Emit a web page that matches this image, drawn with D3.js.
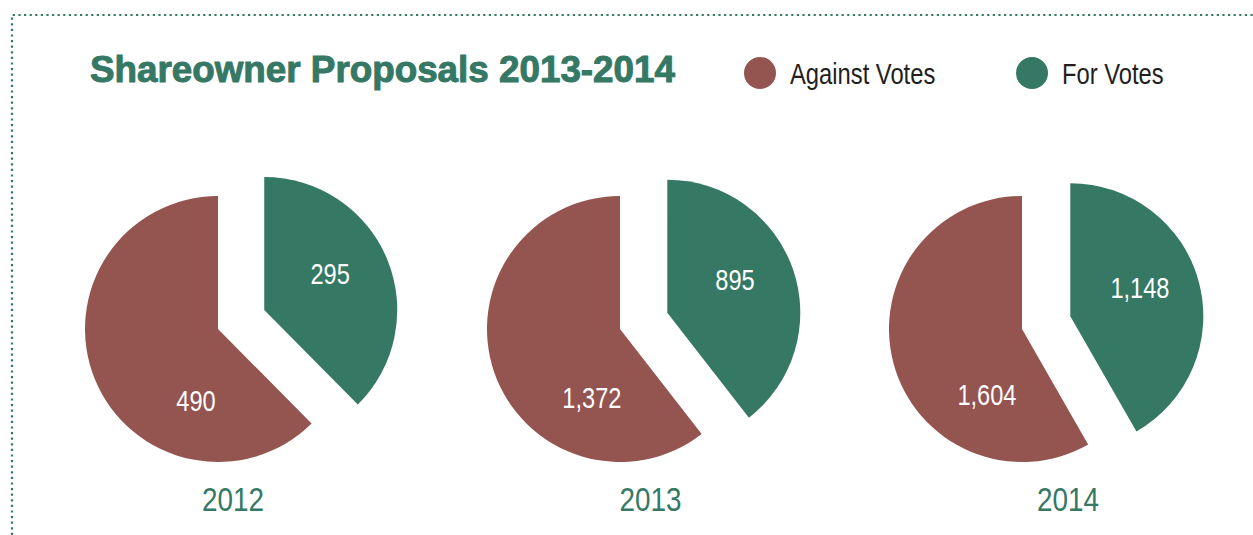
<!DOCTYPE html>
<html>
<head>
<meta charset="utf-8">
<script src="https://cdn.jsdelivr.net/npm/d3@7"></script>
<style>
  html, body { margin: 0; padding: 0; background: #ffffff; }
  svg { display: block; }
</style>
</head>
<body>
<svg id="chart" width="1253" height="535"></svg>
<script>
// Shareowner proposal votes per year
const years = ["2012", "2013", "2014"];
const againstVotes = [490, 1372, 1604];
const forVotes = [295, 895, 1148];
const seriesNames = ["Against Votes", "For Votes"];
const titleText = "Shareowner Proposals 2013-2014";

const colors = { against: "#945450", for: "#357864" };
const green = "#357864";
const sansFont = "Liberation Sans, Arial, sans-serif";

const W = 1253, H = 535;
const svg = d3.select("#chart");

// condensed text: a group at (x, y) squeezing its text horizontally
function narrowText(parent, x, y, squeeze = 0.82) {
  return parent.append("g")
    .attr("transform", `translate(${x},${y}) scale(${squeeze},1)`)
    .append("text")
    .attr("font-family", sansFont);
}

// dotted frame along the top and left
svg.append("path")
  .attr("d", `M12,${H} L12,15 L${W},15`)
  .attr("fill", "none")
  .attr("stroke", green)
  .attr("stroke-width", 2.2)
  .attr("stroke-dasharray", "2.2,3.4");

// title
svg.append("text")
  .attr("x", 90).attr("y", 82)
  .attr("font-family", sansFont)
  .attr("font-weight", "bold")
  .attr("font-size", 36.8)
  .attr("fill", green)
  .attr("stroke", green)
  .attr("stroke-width", 1)
  .attr("stroke-linejoin", "round")
  .text(titleText);

// legend
const legendX = d3.scalePoint().domain(seriesNames).range([760, 1032]);
const legendColor = d3.scaleOrdinal().domain(seriesNames).range([colors.against, colors.for]);
const lg = svg.append("g").selectAll("g").data(seriesNames).join("g")
  .attr("transform", d => `translate(${legendX(d)},73)`);
lg.append("circle").attr("r", 16).attr("fill", d => legendColor(d));
lg.each(function (d) {
  narrowText(d3.select(this), 30, 11)
    .attr("font-size", 29)
    .attr("fill", "#231f20")
    .text(d);
});

// pie layout: For votes clockwise from 12 o'clock, Against fills the rest
const pieX = d3.scalePoint().domain(years).range([218, 1022]);
const yearX = d3.scalePoint().domain(years).range([233, 1068]);
const cy = 329, R = 133, explode = 50, labelR = 75;

const pie = d3.pie().sort(null).value(d => d.value);
const arc = d3.arc().innerRadius(0).outerRadius(R);
const labelArc = d3.arc().innerRadius(0).outerRadius(labelR * 2);
// where along each slice its value label sits
const labelFrac = { for: 0.454, against: 0.275 };
const fmt = d3.format(",");

years.forEach((yr, i) => {
  const data = [
    { key: "for", value: forVotes[i] },
    { key: "against", value: againstVotes[i] }
  ];
  const slices = pie(data);
  const g = svg.append("g").attr("transform", `translate(${pieX(yr)},${cy})`);

  slices.forEach(s => {
    let dx = 0, dy = 0;
    if (s.data.key === "for") {
      const mid = (s.startAngle + s.endAngle) / 2;
      dx = explode * Math.sin(mid);
      dy = -explode * Math.cos(mid);
    }
    const sg = g.append("g").attr("transform", `translate(${dx},${dy})`);
    sg.append("path")
      .attr("d", arc(s))
      .attr("fill", colors[s.data.key]);
    const a = s.startAngle + labelFrac[s.data.key] * (s.endAngle - s.startAngle);
    const [lx, ly] = labelArc.centroid({ startAngle: a, endAngle: a });
    narrowText(sg, lx, ly, 0.8)
      .attr("text-anchor", "middle")
      .attr("dominant-baseline", "central")
      .attr("font-size", 29.5)
      .attr("fill", "#ffffff")
      .text(fmt(s.data.value));
  });

  narrowText(svg, yearX(yr), 511)
    .attr("text-anchor", "middle")
    .attr("font-size", 34)
    .attr("fill", green)
    .text(yr);
});
</script>
</body>
</html>
